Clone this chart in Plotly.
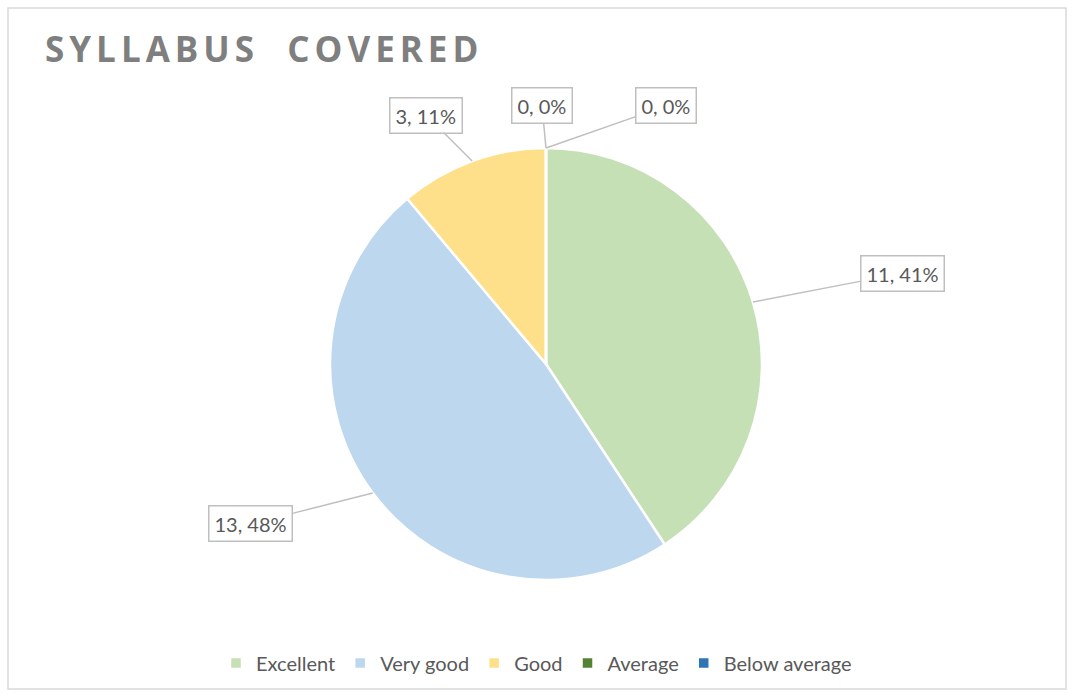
import math
import plotly.graph_objects as go

labels = ["Excellent", "Very good", "Good", "Average", "Below average"]
values = [11, 13, 3, 0, 0]
slice_colors = ["#c5e0b4", "#bdd7ee", "#ffe08a", "#548235", "#2e75b6"]
title_text = "SYLLABUS  COVERED"

W, H = 1073, 694
cx_px, cy_px, r_px = 546, 364, 216
dom_x = [(cx_px - r_px) / W, (cx_px + r_px) / W]
dom_y = [1 - (cy_px + r_px) / H, 1 - (cy_px - r_px) / H]

fig = go.Figure(go.Pie(
    labels=labels, values=values, sort=False, direction="clockwise", rotation=0,
    marker=dict(colors=slice_colors, line=dict(color="white", width=2.5)),
    textinfo="none", hoverinfo="label+value+percent",
    domain=dict(x=dom_x, y=dom_y),
))

# callout offsets (pixels) for each label box relative to its slice anchor
offsets = [(150, -29), (-122, 31), (-46, -46), (-4, -42), (120, -42)]
total = sum(values)
cum = 0
for lab, v, (ax, ay) in zip(labels, values, offsets):
    mid = (cum + v / 2) / total * 2 * math.pi
    cum += v
    px = cx_px + r_px * math.sin(mid)
    py = cy_px - r_px * math.cos(mid)
    pct = round(100 * v / total)
    fig.add_annotation(
        x=px / W, y=1 - py / H, xref="paper", yref="paper",
        text=f"{v}, {pct}%", showarrow=True, arrowhead=0, arrowwidth=1.5,
        arrowcolor="#bfbfbf", ax=ax, ay=ay,
        bordercolor="#bfbfbf", borderwidth=1.5, borderpad=5, bgcolor="white",
        font=dict(family="Lato", size=20, color="#595959"),
    )

fig.add_shape(type="rect", xref="paper", yref="paper",
              x0=8 / W, x1=1066 / W, y0=1 - 689 / H, y1=1 - 8 / H,
              line=dict(color="#d9d9d9", width=1.5))

fig.update_layout(
    width=W, height=H,
    margin=dict(l=0, r=0, t=0, b=0),
    paper_bgcolor="white",
    title=dict(text=title_text, x=45 / W, xanchor="left", y=1 - 50 / H, yanchor="middle",
               font=dict(family="Open Sans", size=35, color="#7f7f7f", weight="bold")),
    legend=dict(orientation="h", x=0.5, xanchor="center", y=1 - 663 / H, yanchor="middle",
                font=dict(family="Lato", size=20, color="#595959"), traceorder="normal"),
    showlegend=True,
)

post_js = """
document.body.style.margin = '0';
var t = document.querySelectorAll('.gtitle');
t.forEach(function(el){ el.style.letterSpacing = '5px'; el.setAttribute('xml:space','preserve'); el.style.whiteSpace='pre'; });
"""
fig.write_html("out.html", post_script=post_js, config={"displayModeBar": False})
